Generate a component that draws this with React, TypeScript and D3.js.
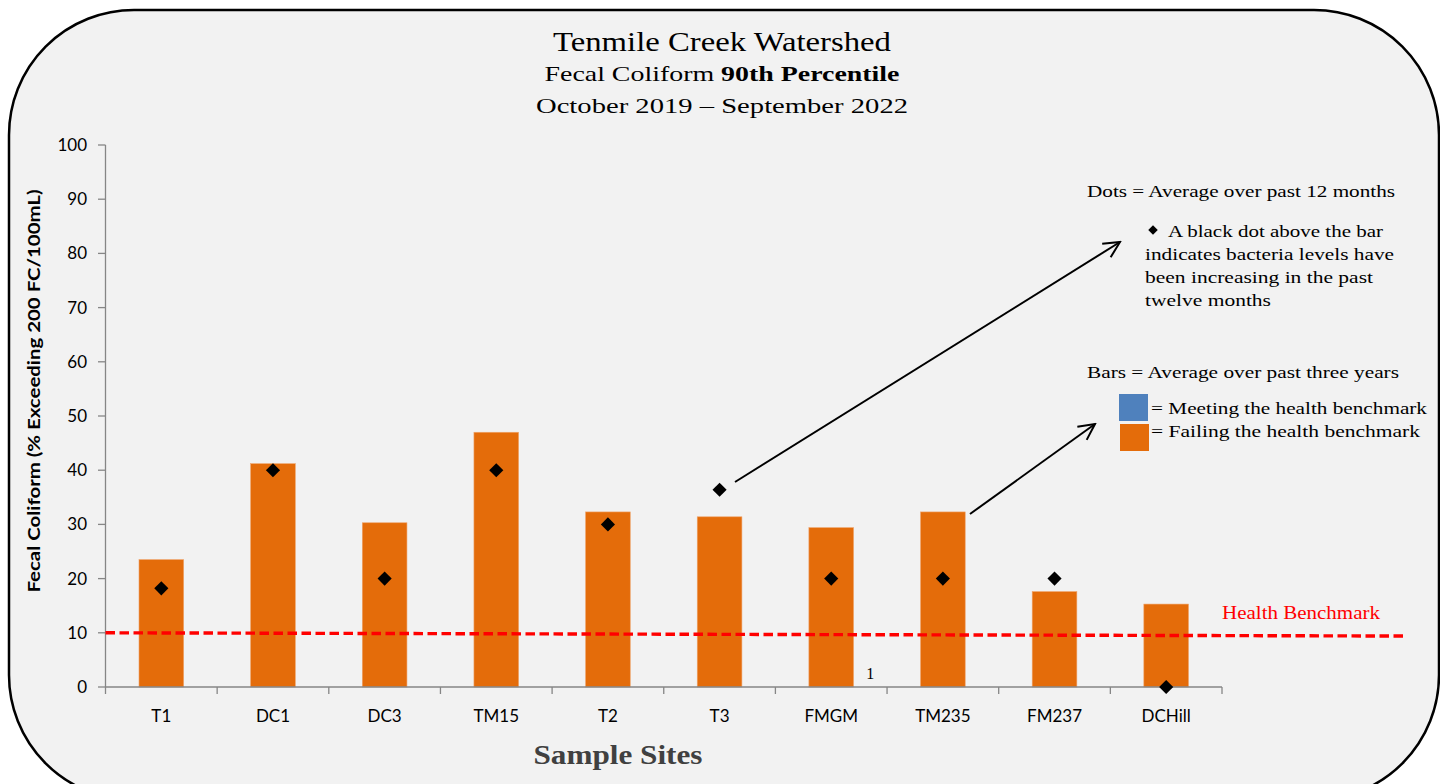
import React from "react";
import * as d3 from "d3";

const sites = ["T1", "DC1", "DC3", "TM15", "T2", "T3", "FMGM", "TM235", "FM237", "DCHill"];
const barValues = [23.5, 41.2, 30.3, 47.0, 32.3, 31.4, 29.4, 32.3, 17.6, 15.3];
const dotValues = [18.2, 40, 20, 40, 30, 36.4, 20, 20, 20, 0];
const yTicks = [0, 10, 20, 30, 40, 50, 60, 70, 80, 90, 100];
const benchmark = 10;

const W = 1440;
const H = 784;
const SERIF = "'Liberation Serif', 'DejaVu Serif', serif";
const SANS = "Lato, 'Open Sans', sans-serif";
const ORANGE = "#E46C0A";
const BLUE = "#4F81BD";

export default function App() {
  const band = d3.scaleBand<string>().domain(sites).range([105.5, 1222]);
  const barW = band.bandwidth() * 0.4;
  const cx = (s: string) => band(s)! + band.bandwidth() / 2;
  const y = d3.scaleLinear().domain([0, 100]).range([687, 145]);
  const diamond = d3.symbol().type(d3.symbolSquare).size(100)();

  const tickXs = [...sites.map((s) => band(s)!), 1222];

  return (
    <svg width={W} height={H} style={{ position: "absolute", left: 0, top: 0, background: "#fff" }}>
      <defs>
        <marker id="arr" viewBox="0 0 20 20" refX="18" refY="10" markerWidth="20" markerHeight="20" markerUnits="userSpaceOnUse" orient="auto">
          <path d="M2,2 L18,10 L2,18" fill="none" stroke="#000" strokeWidth={2} />
        </marker>
      </defs>
      <rect x={9} y={10} width={1430} height={790} rx={125} ry={125} fill="#F2F2F2" stroke="#000" strokeWidth={2.5} />

      {/* Titles */}
      <text x={722} y={51} textAnchor="middle" fontFamily={SERIF} fontSize={28} textLength={338} lengthAdjust="spacingAndGlyphs" fill="#000">
        Tenmile Creek Watershed
      </text>
      <text x={722} y={81} textAnchor="middle" fontFamily={SERIF} fontSize={22} textLength={355} lengthAdjust="spacingAndGlyphs" fill="#000">
        Fecal Coliform <tspan fontWeight="bold">90th Percentile</tspan>
      </text>
      <text x={722} y={113} textAnchor="middle" fontFamily={SERIF} fontSize={22} textLength={372} lengthAdjust="spacingAndGlyphs" fill="#000">
        October 2019 –  September 2022
      </text>

      {/* Y axis */}
      <line x1={105.5} x2={105.5} y1={y(100)} y2={y(0)} stroke="#868686" strokeWidth={1.3} />
      {yTicks.map((t) => (
        <g key={t}>
          <line x1={98} x2={105.5} y1={y(t)} y2={y(t)} stroke="#868686" strokeWidth={1.3} />
          <text x={87} y={y(t)} dy="0.35em" textAnchor="end" fontFamily={SANS} fontSize={17} fill="#000">
            {t}
          </text>
        </g>
      ))}
      <text
        transform={`translate(40, 391) rotate(-90)`}
        textAnchor="middle"
        fontFamily={SANS}
        fontWeight="bold"
        fontSize={17.5}
        textLength={403}
        lengthAdjust="spacingAndGlyphs"
        fill="#000"
      >
        Fecal Coliform (% Exceeding 200 FC/100mL)
      </text>

      {/* Bars */}
      {sites.map((s, i) => (
        <rect key={s} x={cx(s) - barW / 2} y={y(barValues[i])} width={barW} height={y(0) - y(barValues[i])} fill={ORANGE} stroke="#EFA36A" strokeWidth={0.6} />
      ))}

      {/* X axis */}
      <line x1={105.5} x2={1222} y1={y(0)} y2={y(0)} stroke="#868686" strokeWidth={1.3} />
      {tickXs.map((tx, i) => (
        <line key={i} x1={tx} x2={tx} y1={y(0)} y2={y(0) + 7} stroke="#868686" strokeWidth={1.3} />
      ))}
      {sites.map((s) => (
        <text key={s} x={cx(s)} y={722} textAnchor="middle" fontFamily={SANS} fontSize={17} fill="#000">
          {s}
        </text>
      ))}
      <text x={cx("FMGM") + 39} y={679} textAnchor="middle" fontFamily={SERIF} fontSize={16} fill="#000">
        1
      </text>
      <text x={618} y={764} textAnchor="middle" fontFamily={SERIF} fontWeight="bold" fontSize={27} textLength={169} lengthAdjust="spacingAndGlyphs" fill="#404040">
        Sample Sites
      </text>

      {/* Benchmark */}
      <line x1={105.5} x2={1405} y1={y(benchmark)} y2={y(benchmark - 0.6)} stroke="#FF0000" strokeWidth={3.4} strokeDasharray="9.5,4.5" />
      <text x={1222} y={619} fontFamily={SERIF} fontSize={18} textLength={158} lengthAdjust="spacingAndGlyphs" fill="#FF0000">
        Health Benchmark
      </text>

      {/* Dots */}
      {sites.map((s, i) => (
        <path key={s} d={diamond!} transform={`translate(${cx(s)},${y(dotValues[i])}) rotate(45)`} fill="#000" />
      ))}

      {/* Arrows */}
      <line x1={735} y1={482} x2={1120} y2={242} stroke="#000" strokeWidth={2} markerEnd="url(#arr)" />
      <line x1={970} y1={514} x2={1095} y2={424} stroke="#000" strokeWidth={2} markerEnd="url(#arr)" />

      {/* Legend */}
      <g fontFamily={SERIF} fontSize={17} fill="#000">
        <text x={1087} y={197} textLength={308} lengthAdjust="spacingAndGlyphs">Dots = Average over past 12 months</text>
        <path d={d3.symbol().type(d3.symbolSquare).size(45)()!} transform="translate(1153,230) rotate(45)" fill="#000" />
        <text x={1168} y={237} textLength={215} lengthAdjust="spacingAndGlyphs">A black dot above the bar</text>
        <text x={1145} y={260} textLength={249} lengthAdjust="spacingAndGlyphs">indicates bacteria levels have</text>
        <text x={1145} y={283} textLength={228} lengthAdjust="spacingAndGlyphs">been increasing in the past</text>
        <text x={1145} y={306} textLength={126} lengthAdjust="spacingAndGlyphs">twelve months</text>
        <text x={1087} y={378} textLength={312} lengthAdjust="spacingAndGlyphs">Bars = Average over past three years</text>
        <rect x={1119} y={394} width={29} height={27} fill={BLUE} />
        <rect x={1120} y={424} width={29} height={27} fill={ORANGE} />
        <text x={1151} y={414} textLength={276} lengthAdjust="spacingAndGlyphs">= Meeting the health benchmark</text>
        <text x={1151} y={437} textLength={269} lengthAdjust="spacingAndGlyphs">= Failing the health  benchmark</text>
      </g>
    </svg>
  );
}
